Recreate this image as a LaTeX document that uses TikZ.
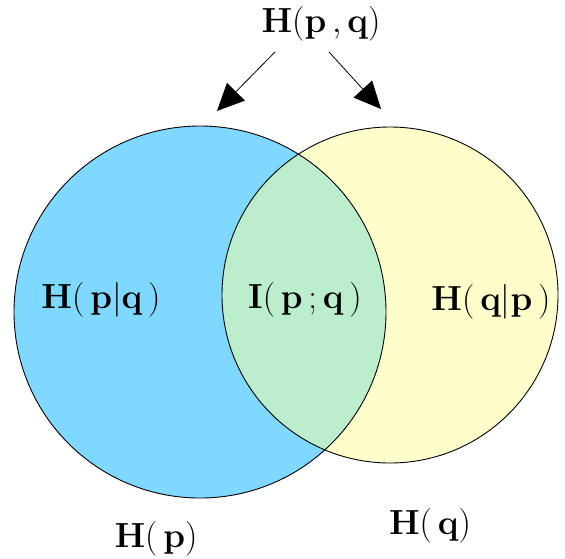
\documentclass[tikz,border=0pt]{standalone}
\usepackage{graphicx}
\usetikzlibrary{arrows.meta}
\definecolor{cblue}{RGB}{127,216,255}
\definecolor{cyellow}{RGB}{255,255,204}
\definecolor{cgreen}{RGB}{187,238,204}
\newcommand{\biglbl}[1]{\scalebox{1.4}{\Huge #1}}
\begin{document}
\begin{tikzpicture}[x=1pt,y=-1pt,
  lbl/.style={inner sep=0pt},
  arr/.style={line width=0.8pt,-{Triangle[length=27pt,width=25pt]}}]
\useasboundingbox (0,0) rectangle (565,558);
\fill[white] (0,0) rectangle (565,558);
% circles
\fill[cblue] (200,312) circle[radius=186];
\fill[cyellow] (390,295) circle[radius=168];
\begin{scope}
  \clip (200,312) circle[radius=186];
  \fill[cgreen] (390,295) circle[radius=168];
\end{scope}
\draw[line width=0.9pt] (200,312) circle[radius=186];
\draw[line width=0.9pt] (390,295) circle[radius=168];
% labels
\node[lbl] (hpq) at (321,24) {\biglbl{$\mathbf{H}(\mathbf{p}\,,\mathbf{q})$}};
\node[lbl] (hpgq) at (101,300) {\biglbl{$\mathbf{H}(\,\mathbf{p}|\mathbf{q}\,)$}};
\node[lbl] (ipq) at (305,300) {\biglbl{$\mathbf{I}(\,\mathbf{p}\,;\mathbf{q}\,)$}};
\node[lbl] (hqgp) at (491,302) {\biglbl{$\mathbf{H}(\,\mathbf{q}|\mathbf{p}\,)$}};
\node[lbl] (hp) at (156,539) {\biglbl{$\mathbf{H}(\,\mathbf{p})$}};
\node[lbl] (hq) at (430,526) {\biglbl{$\mathbf{H}(\,\mathbf{q})$}};
% arrows
\coordinate (la) at (275,52);
\coordinate (lb) at (217,111);
\coordinate (ra) at (329,52);
\coordinate (rb) at (381,109);
\draw[arr] (la) -- (lb);
\draw[arr] (ra) -- (rb);
\end{tikzpicture}
\end{document}
